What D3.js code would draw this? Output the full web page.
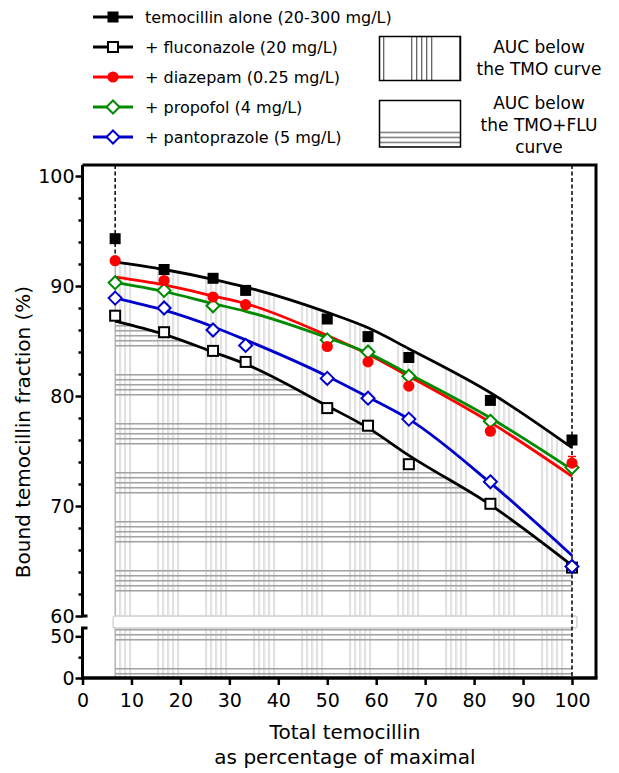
<!DOCTYPE html>
<html>
<head>
<meta charset="utf-8">
<script src="https://cdn.jsdelivr.net/npm/d3@7"></script>
<style>
  body { margin: 0; background: #fff; }
  svg { display: block; font-family: "DejaVu Sans", sans-serif; }
</style>
</head>
<body>
<svg id="chart" width="619" height="773"></svg>
<script>
// Total temocillin as % of the maximal concentration (20, 50, 80, 100, 150, 175, 200, 250, 300 mg/L)
const concPct = [6.67, 16.67, 26.67, 33.33, 50, 58.33, 66.67, 83.33, 100];

// Measured bound fraction (%)
const tmoAlone     = [94.3, 91.5, 90.7, 89.6, 87.0, 85.4, 83.5, 79.6, 76.0];
const fluconazole  = [87.3, 85.8, 84.1, 83.1, 78.9, 77.3, 73.8, 70.2, 64.4];
const diazepam     = [92.3, 90.5, 89.0, 88.3, 84.5, 83.1, 80.9, 76.8, 73.9];
const propofol     = [90.3, 89.6, 88.2, null, 85.1, 84.0, 81.8, 77.7, 73.5];
const pantoprazole = [88.9, 88.0, 86.0, 84.6, 81.6, 79.8, 77.9, 72.2, 64.5];
const diazepamSd   = [0, 0, 0, 0, 0, 0, 0, 0, 0.6];

// Fitted curves (bound fraction at the same concentrations)
const tmoFit   = [92.2, 91.5, 90.6, 89.9, 87.6, 86.2, 84.3, 80.3, 75.3];
const fluFit   = [86.8, 85.6, 84.0, 82.9, 79.1, 77.1, 74.6, 70.1, 64.6];
const diazFit  = [90.8, 90.1, 89.1, 88.4, 85.5, 83.8, 81.8, 77.6, 72.7];
const propFit  = [90.3, 89.5, 88.4, 87.7, 85.3, 83.9, 82.0, 78.0, 73.3];
const pantoFit = [88.9, 87.8, 86.3, 85.1, 81.8, 79.9, 77.9, 72.1, 65.5];

const seriesNames = [
  "temocillin alone (20-300 mg/L)",
  "+ fluconazole (20 mg/L)",
  "+ diazepam (0.25 mg/L)",
  "+ propofol (4 mg/L)",
  "+ pantoprazole (5 mg/L)"
];

const xTicks = [0, 10, 20, 30, 40, 50, 60, 70, 80, 90, 100];
const yTicksUpper = [60, 70, 80, 90, 100];
const yTicksLower = [0, 50];
const yMinorUpper = [62, 64, 66, 68, 72, 74, 76, 78, 82, 84, 86, 88, 92, 94, 96, 98];
const yMinorLower = [25];

const series = [
  { name: seriesNames[0], color: "#000", marker: "squareFilled", values: tmoAlone, fit: tmoFit },
  { name: seriesNames[1], color: "#000", marker: "squareOpen", values: fluconazole, fit: fluFit },
  { name: seriesNames[2], color: "#ff0000", marker: "circle", values: diazepam, fit: diazFit, sd: diazepamSd },
  { name: seriesNames[3], color: "#008a00", marker: "diamond", values: propofol, fit: propFit },
  { name: seriesNames[4], color: "#0000cc", marker: "diamond", values: pantoprazole, fit: pantoFit }
];

const svg = d3.select("#chart");
const x = d3.scaleLinear().domain([0, 100]).range([82.5, 572]);
const yUp = d3.scaleLinear().domain([60, 101]).range([616, 165]);
const yLow = d3.scaleLinear().domain([0, 60]).range([678, 628]);
const yBase = yLow(0);

// ---- hatch patterns ----
const defs = svg.append("defs");
function hatch(id, vertical, offset, period, count, color, width) {
  const p = defs.append("pattern").attr("id", id).attr("patternUnits", "userSpaceOnUse");
  if (vertical) p.attr("x", offset).attr("y", 0).attr("width", period).attr("height", 10);
  else p.attr("x", 0).attr("y", offset).attr("width", 10).attr("height", period);
  for (let i = 0; i < count; i++) {
    const c = 0.75 + i * 5;
    const l = p.append("line").attr("stroke", color).attr("stroke-width", width);
    if (vertical) l.attr("x1", c).attr("x2", c).attr("y1", 0).attr("y2", 10);
    else l.attr("y1", c).attr("y2", c).attr("x1", 0).attr("x2", 10);
  }
}
hatch("vh", true, 13.3, 48, 5, "#cdcdcd", 1.3);
hatch("hh", false, 31, 49, 5, "#a3a3a3", 1.6);
hatch("vhKey", true, 27, 48, 5, "#333", 1);
hatch("hhKey", false, 33.7, 49, 4, "#333", 1);

// ---- areas under the TMO and TMO+FLU curves ----
const area = d3.area()
  .x((d, i) => x(concPct[i]))
  .y0(yBase)
  .y1(d => yUp(d))
  .curve(d3.curveMonotoneX);

svg.append("path").datum(tmoFit).attr("d", area).attr("fill", "url(#vh)");
svg.append("path").datum(fluFit).attr("d", area).attr("fill", "url(#hh)");
svg.append("line")
  .attr("x1", x(concPct[0])).attr("x2", x(concPct[0]))
  .attr("y1", yUp(tmoFit[0])).attr("y2", yBase)
  .attr("stroke", "#aaa").attr("stroke-width", 1.2);

// axis break band
svg.append("rect")
  .attr("x", x(concPct[0]) - 2).attr("y", yUp(60))
  .attr("width", x(100) - x(concPct[0]) + 7).attr("height", yLow(60) - yUp(60))
  .attr("rx", 2)
  .attr("fill", "#fff").attr("stroke", "#d0d0d0").attr("stroke-width", 1.3);

// dotted limits of the concentration range
svg.append("line")
  .attr("x1", x(concPct[0])).attr("x2", x(concPct[0]))
  .attr("y1", yUp(101)).attr("y2", yUp(tmoFit[0]))
  .attr("stroke", "#000").attr("stroke-width", 1.5).attr("stroke-dasharray", "4,2.5");

// ---- axes ----
const font = "DejaVu Sans";
const xAxisG = svg.append("g").attr("transform", `translate(0,${yBase})`)
  .call(d3.axisBottom(x).tickValues(xTicks).tickSize(7).tickPadding(8.5));
xAxisG.select(".domain").remove();
xAxisG.selectAll("line").attr("stroke", "#000").attr("stroke-width", 2.5);
xAxisG.selectAll("text").attr("font-size", 19).attr("font-family", font).attr("fill", "#000");

function yAxis(scale, majors, minors) {
  const g = svg.append("g").attr("transform", "translate(82.5,0)")
    .call(d3.axisLeft(scale).tickValues(majors).tickSize(7).tickPadding(1));
  g.select(".domain").remove();
  g.selectAll("line").attr("stroke", "#000").attr("stroke-width", 2.5);
  g.selectAll("text").attr("font-size", 19).attr("font-family", font).attr("fill", "#000");
  const m = svg.append("g").attr("transform", "translate(82.5,0)")
    .call(d3.axisLeft(scale).tickValues(minors).tickSize(4).tickFormat(""));
  m.select(".domain").remove();
  m.selectAll("line").attr("stroke", "#000").attr("stroke-width", 2.5);
}
yAxis(yUp, yTicksUpper, yMinorUpper);
yAxis(yLow, yTicksLower, yMinorLower);

// axis lines with break feet, frame
svg.append("path")
  .attr("d", `M82.5,${yUp(101)}V${yUp(60)}H87.5M87.5,${yLow(60)}H82.5V${yBase}`)
  .attr("fill", "none").attr("stroke", "#000").attr("stroke-width", 3);
svg.append("path")
  .attr("d", `M82.5,${yUp(101)}H596V${yBase}`)
  .attr("fill", "none").attr("stroke", "#000").attr("stroke-width", 3);
svg.append("line")
  .attr("x1", 81).attr("x2", 597.5).attr("y1", yBase).attr("y2", yBase)
  .attr("stroke", "#000").attr("stroke-width", 3.5);

svg.append("line")
  .attr("x1", x(100)).attr("x2", x(100))
  .attr("y1", yUp(101)).attr("y2", yBase)
  .attr("stroke", "#000").attr("stroke-width", 1.5).attr("stroke-dasharray", "4,2.5");

// ---- fitted curves ----
const line = d3.line()
  .x((d, i) => x(concPct[i]))
  .y(d => yUp(d))
  .curve(d3.curveMonotoneX);

[0, 1, 2, 3, 4].forEach(k => {
  svg.append("path").datum(series[k].fit).attr("d", line)
    .attr("fill", "none").attr("stroke", series[k].color).attr("stroke-width", 2.8);
});

// ---- markers ----
function drawMarker(g, type, color, cx, cy) {
  if (type === "squareFilled") {
    g.append("rect").attr("x", cx - 5.5).attr("y", cy - 5.5).attr("width", 11).attr("height", 11).attr("fill", color);
  } else if (type === "squareOpen") {
    g.append("rect").attr("x", cx - 5).attr("y", cy - 5).attr("width", 10).attr("height", 10)
      .attr("fill", "#fff").attr("stroke", color).attr("stroke-width", 2);
  } else if (type === "circle") {
    g.append("circle").attr("cx", cx).attr("cy", cy).attr("r", 5.6).attr("fill", color);
  } else {
    const r = 6.5;
    g.append("path").attr("d", `M${cx},${cy - r}L${cx + r},${cy}L${cx},${cy + r}L${cx - r},${cy}Z`)
      .attr("fill", "#fff").attr("stroke", color).attr("stroke-width", 2);
  }
}

const markerOrder = [0, 1, 3, 4, 2];
const markersG = svg.append("g");
markerOrder.forEach(k => {
  const s = series[k];
  s.values.forEach((v, i) => {
    if (v == null) return;
    if (s.sd && s.sd[i] > 0) {
      const yTop = yUp(v + s.sd[i]);
      markersG.append("path")
        .attr("d", `M${x(concPct[i])},${yUp(v)}V${yTop}M${x(concPct[i]) - 4},${yTop}H${x(concPct[i]) + 4}`)
        .attr("stroke", s.color).attr("stroke-width", 1.5).attr("fill", "none");
    }
    drawMarker(markersG, s.marker, s.color, x(concPct[i]), yUp(v));
  });
});

// ---- legend ----
const legendRows = [17, 47, 77, 107, 137];
series.forEach((s, k) => {
  const g = svg.append("g");
  g.append("line").attr("x1", 93).attr("x2", 133).attr("y1", legendRows[k]).attr("y2", legendRows[k])
    .attr("stroke", s.color).attr("stroke-width", 3);
  drawMarker(g, s.marker, s.color, 113, legendRows[k]);
  g.append("text").attr("x", 145).attr("y", legendRows[k]).attr("dy", "0.36em")
    .attr("font-size", 16).attr("fill", "#000").text(s.name);
});

// area keys
svg.append("rect").attr("x", 379.5).attr("y", 36.5).attr("width", 81).attr("height", 44)
  .attr("fill", "url(#vhKey)").attr("stroke", "#000").attr("stroke-width", 1.5);
svg.append("rect").attr("x", 379.5).attr("y", 100.5).attr("width", 81).attr("height", 46.5)
  .attr("fill", "url(#hhKey)").attr("stroke", "#000").attr("stroke-width", 1.5);

const keyText = [
  ["AUC below", 47], ["the TMO curve", 69],
  ["AUC below", 103], ["the TMO+FLU", 125], ["curve", 147]
];
keyText.forEach(([t, yy]) => {
  svg.append("text").attr("x", 539).attr("y", yy).attr("dy", "0.36em")
    .attr("text-anchor", "middle").attr("font-size", 17).attr("fill", "#000").text(t);
});

// ---- axis titles ----
svg.append("text").attr("transform", "translate(23,432) rotate(-90)")
  .attr("text-anchor", "middle").attr("dy", "0.36em").attr("font-size", 20).attr("fill", "#000")
  .text("Bound temocillin fraction (%)");
svg.append("text").attr("x", 345).attr("y", 732).attr("dy", "0.36em")
  .attr("text-anchor", "middle").attr("font-size", 20).attr("fill", "#000")
  .text("Total temocillin");
svg.append("text").attr("x", 345).attr("y", 757).attr("dy", "0.36em")
  .attr("text-anchor", "middle").attr("font-size", 20).attr("fill", "#000")
  .text("as percentage of maximal");
</script>
</body>
</html>
